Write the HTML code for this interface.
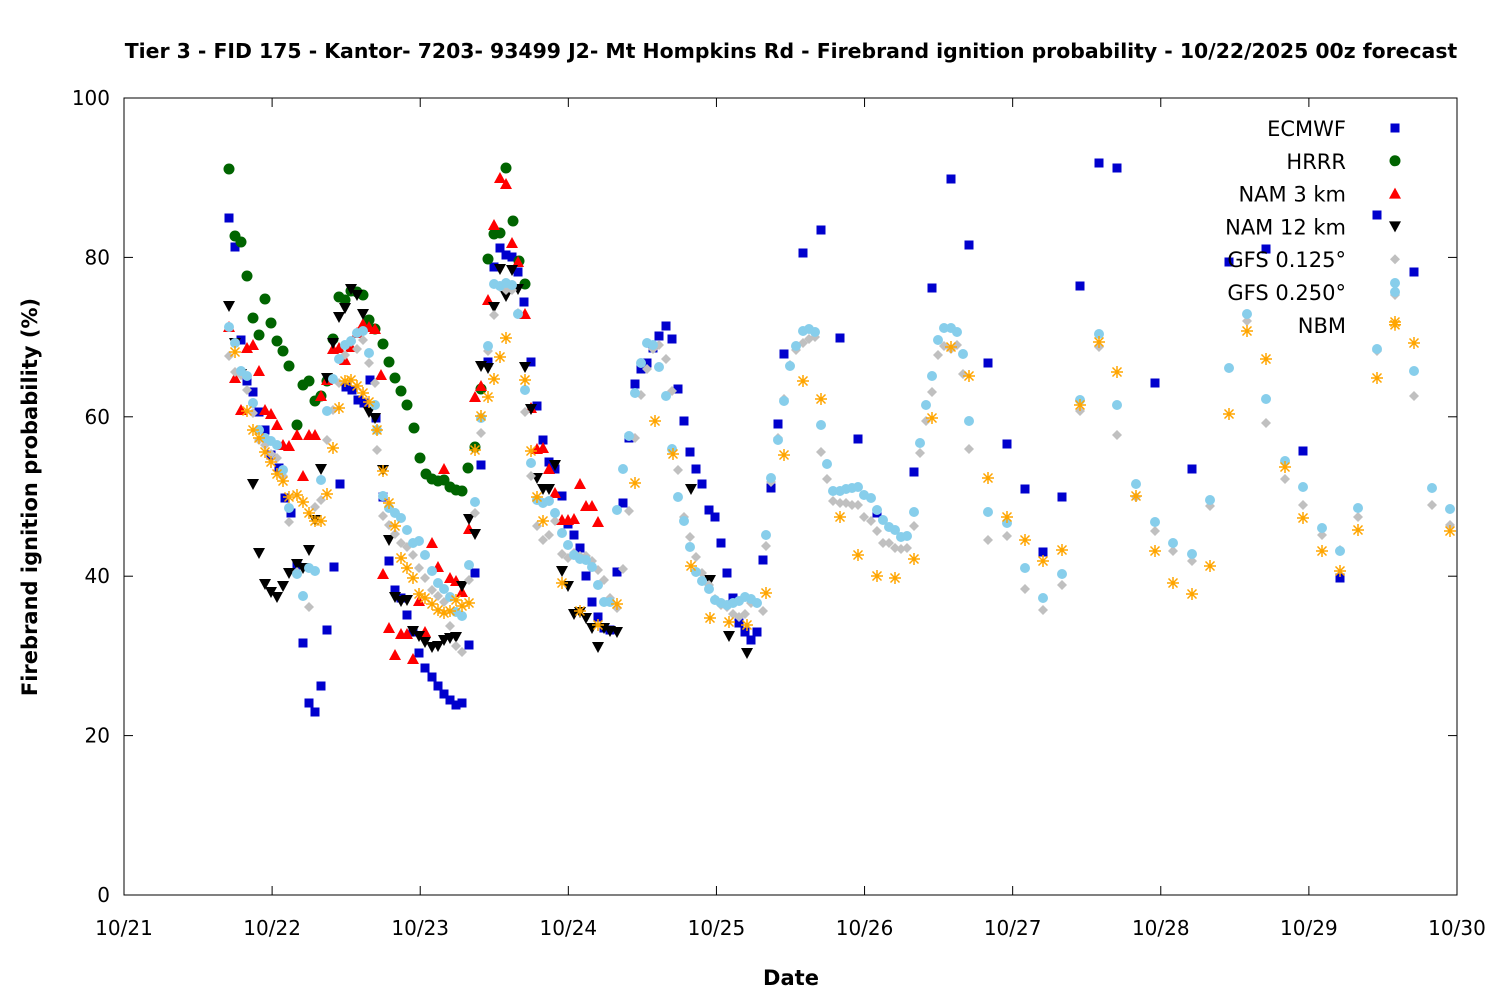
<!DOCTYPE html>
<html><head><meta charset="utf-8"><style>
body{margin:0;background:#fff;}
svg text{font-family:"DejaVu Sans","Liberation Sans",sans-serif;}
</style></head><body>
<svg id="s" width="1500" height="1000" xmlns="http://www.w3.org/2000/svg">
<rect width="1500" height="1000" fill="#fff"/>
<text x="791" y="58" text-anchor="middle" font-size="20.4" font-weight="bold">Tier 3 - FID 175 - Kantor- 7203- 93499 J2- Mt Hompkins Rd - Firebrand ignition probability - 10/22/2025 00z forecast</text>
<rect x="124" y="98" width="1333" height="797" fill="none" stroke="#000" stroke-width="1"/>
<g id="ticks" stroke="#000" stroke-width="1"></g>
<g id="lbl" font-size="20" fill="#000"></g>
<text x="791" y="985" text-anchor="middle" font-size="21" font-weight="bold">Date</text>
<text transform="translate(37,497) rotate(-90)" text-anchor="middle" font-size="21" font-weight="bold">Firebrand ignition probability (%)</text>
<g id="pts"></g>
<g id="leg" font-size="21" text-anchor="end"></g>
</svg>
<script>
const NS="http://www.w3.org/2000/svg";
function el(p,t,a,txt){const e=document.createElementNS(NS,t);for(const k in a)e.setAttribute(k,a[k]);if(txt!==undefined)e.textContent=txt;document.getElementById(p).appendChild(e);return e;}
for(let i=0;i<=5;i++){const y=895-i*159.4;el("ticks","line",{x1:124,y1:y,x2:133,y2:y});el("ticks","line",{x1:1457,y1:y,x2:1448,y2:y});el("lbl","text",{x:110,y:y+7,"text-anchor":"end"},String(i*20));}
const days=["10/21","10/22","10/23","10/24","10/25","10/26","10/27","10/28","10/29","10/30"];
for(let i=0;i<10;i++){const x=124+i*148.11;el("ticks","line",{x1:x,y1:895,x2:x,y2:886});el("ticks","line",{x1:x,y1:98,x2:x,y2:107});el("lbl","text",{x:x,y:935,"text-anchor":"middle"},days[i]);}
function P(s){const a=s.split(/[(),\s]+/).filter(x=>x).map(Number);const r=[];for(let i=0;i+1<a.length;i+=2)r.push([a[i],a[i+1]]);return r;}
function mark(type,x,y){
 if(type=="sq")el("pts","rect",{x:x-4.5,y:y-4.5,width:9,height:9,fill:"#0000cd"});
 else if(type=="ci")el("pts","circle",{cx:x,cy:y,r:5.5,fill:"#006400"});
 else if(type=="tu")el("pts","polygon",{points:`${x},${y-6} ${x-6},${y+5} ${x+6},${y+5}`,fill:"#ff0000"});
 else if(type=="td")el("pts","polygon",{points:`${x},${y+6} ${x-6},${y-5} ${x+6},${y-5}`,fill:"#000"});
 else if(type=="di")el("pts","polygon",{points:`${x},${y-5} ${x+5},${y} ${x},${y+5} ${x-5},${y}`,fill:"#c0c0c0"});
 else if(type=="pe")el("pts","circle",{cx:x,cy:y,r:5,fill:"#87ceeb"});
 else if(type=="as"){const g=`M${x-6},${y}H${x+6}M${x},${y-6}V${y+6}M${x-4.5},${y-4.5}L${x+4.5},${y+4.5}M${x-4.5},${y+4.5}L${x+4.5},${y-4.5}`;el("pts","path",{d:g,stroke:"#ffa500","stroke-width":1.5,fill:"none"});}
}
const S=[
["ECMWF","sq","(229,218),(235,247),(241,340),(247,381),(253,392),(259,412),(265,430),(271,455),(279,468),(285,498),(291,513),(297,565),(303,643),(309,703),(315,712),(321,686),(327,630),(334,567),(340,484),(346,387),(352,390),(358,400),(364,403),(370,380),(376,418),(383,497),(389,561),(395,590),(401,598),(407,615),(413,632),(419,653),(425,668),(432,677),(438,686),(444,694),(450,700),(456,705),(462,703),(469,645),(475,573),(481,465),(488,362),(494,267),(500,248),(506,255),(512,257),(518,272),(524,302),(531,362),(537,406),(543,440),(549,462),(555,469),(562,496),(568,524),(574,535),(580,548),(586,576),(592,602),(598,617),(604,628),(610,630),(617,572),(623,503),(629,438),(635,384),(641,369),(647,363),(653,348),(659,336),(666,326),(672,339),(678,389),(684,421),(690,452),(696,469),(702,484),(709,510),(715,517),(721,543),(727,573),(733,598),(739,623),(745,632),(751,640),(757,632),(763,560),(771,488),(778,424),(784,354),(803,253),(821,230),(840,338),(858,439),(877,513),(914,472),(932,288),(951,179),(969,245),(988,363),(1007,444),(1025,489),(1043,552),(1062,497),(1080,286),(1099,163),(1117,168),(1155,383),(1192,469),(1229,262),(1266,249),(1303,451),(1340,578),(1377,215),(1414,272)"],
["HRRR","ci","(229,169),(235,236),(241,242),(247,276),(253,318),(259,335),(265,299),(271,323),(277,341),(283,351),(289,366),(297,425),(303,385),(309,381),(315,401),(321,396),(327,381),(333,339),(339,297),(345,300),(351,291),(357,292),(363,295),(369,320),(375,329),(383,344),(389,362),(395,378),(401,391),(407,405),(414,428),(420,458),(426,474),(432,479),(438,481),(444,480),(450,487),(456,490),(462,491),(468,468),(475,447),(481,389),(488,259),(494,234),(500,233),(506,168),(513,221),(519,261),(525,284)"],
["NAM 3 km","tu","(229,327),(235,378),(241,410),(247,348),(253,345),(259,371),(265,410),(271,414),(277,425),(283,445),(289,446),(297,435),(303,476),(309,435),(315,435),(321,396),(327,380),(333,349),(339,348),(345,360),(351,347),(357,333),(363,324),(369,327),(375,329),(381,375),(383,574),(389,628),(395,655),(401,634),(407,634),(413,659),(419,601),(425,632),(432,543),(438,567),(444,469),(450,578),(456,581),(462,592),(469,529),(475,397),(481,386),(488,300),(494,225),(500,178),(506,184),(512,243),(518,262),(525,314),(531,408),(537,449),(543,448),(549,469),(555,493),(562,520),(568,520),(574,519),(580,484),(586,506),(592,506),(598,522)"],
["NAM 12 km","td","(229,306),(235,343),(241,374),(253,484),(259,553),(265,584),(271,592),(277,597),(283,586),(289,573),(297,564),(303,568),(309,550),(315,520),(321,469),(327,378),(333,343),(339,317),(345,308),(351,289),(357,295),(363,314),(369,412),(375,418),(383,470),(389,540),(395,597),(401,601),(407,600),(413,631),(419,636),(425,642),(432,647),(438,646),(444,640),(450,638),(456,637),(462,586),(469,519),(475,534),(481,366),(488,368),(494,307),(500,269),(506,296),(512,270),(518,289),(525,367),(531,409),(537,478),(543,489),(549,489),(555,465),(562,571),(568,586),(574,614),(580,612),(586,618),(592,628),(598,647),(604,628),(610,631),(617,632),(691,489),(710,580),(729,636),(747,653)"],
["GFS 0.125°","di","(229,356),(235,372),(241,375),(247,390),(253,413),(259,440),(265,445),(271,454),(277,458),(283,476),(289,522),(297,572),(303,596),(309,607),(315,507),(321,500),(327,440),(333,410),(339,383),(345,355),(351,342),(357,349),(363,340),(369,363),(375,383),(377,450),(383,516),(389,525),(395,534),(401,543),(407,547),(413,555),(419,568),(425,578),(432,590),(438,596),(444,602),(450,626),(456,646),(462,652),(469,580),(475,513),(481,433),(488,351),(494,315),(500,287),(506,290),(512,290),(518,313),(525,412),(531,476),(537,526),(543,540),(549,535),(555,521),(562,554),(568,558),(574,553),(580,556),(586,556),(592,561),(598,570),(604,580),(610,598),(617,608),(623,569),(629,511),(635,438),(641,395),(647,369),(653,349),(659,345),(666,359),(672,391),(678,470),(684,517),(690,537),(696,557),(702,573),(709,585),(715,599),(721,605),(727,607),(733,614),(739,617),(745,614),(751,603),(757,603),(763,611),(766,546),(771,482),(778,438),(784,399),(790,365),(796,350),(803,343),(809,339),(815,337),(821,452),(827,479),(833,501),(840,503),(846,503),(852,505),(858,505),(864,517),(871,521),(877,531),(883,543),(889,543),(895,548),(901,549),(907,548),(914,526),(920,453),(926,421),(932,392),(938,355),(944,346),(951,349),(957,345),(963,374),(969,449),(988,540),(1007,536),(1025,589),(1043,610),(1062,585),(1080,411),(1099,347),(1117,435),(1136,497),(1155,531),(1173,551),(1192,561),(1210,506),(1229,368),(1247,321),(1266,423),(1285,479),(1303,505),(1322,535),(1340,550),(1358,517),(1377,351),(1395,295),(1414,396),(1432,505),(1450,525)"],
["GFS 0.250°","pe","(229,327),(235,343),(241,371),(247,376),(253,403),(259,430),(265,438),(271,441),(277,445),(283,470),(289,508),(297,574),(303,596),(309,568),(315,571),(321,480),(327,411),(333,379),(339,359),(345,345),(351,341),(357,333),(363,331),(369,353),(375,405),(377,430),(383,496),(389,508),(395,513),(401,518),(407,530),(413,543),(419,541),(425,555),(432,571),(438,583),(444,589),(450,597),(456,612),(462,616),(469,565),(475,502),(481,418),(488,346),(494,284),(500,286),(506,283),(512,285),(518,314),(525,390),(531,463),(537,500),(543,503),(549,501),(555,513),(562,533),(568,545),(574,555),(580,559),(586,560),(592,567),(598,585),(604,602),(610,602),(617,510),(623,469),(629,436),(635,393),(641,363),(647,343),(653,345),(659,367),(666,396),(672,449),(678,497),(684,521),(690,547),(696,572),(702,581),(709,589),(715,600),(721,603),(727,605),(733,603),(739,601),(745,597),(751,599),(757,603),(766,535),(771,478),(778,440),(784,401),(790,366),(796,346),(803,331),(809,329),(815,332),(821,425),(827,464),(833,491),(840,491),(846,489),(852,488),(858,487),(864,495),(871,498),(877,510),(883,520),(889,527),(895,530),(901,537),(907,536),(914,512),(920,443),(926,405),(932,376),(938,340),(944,328),(951,328),(957,332),(963,354),(969,421),(988,512),(1007,523),(1025,568),(1043,598),(1062,574),(1080,400),(1099,334),(1117,405),(1136,484),(1155,522),(1173,543),(1192,554),(1210,500),(1229,368),(1247,314),(1266,399),(1285,461),(1303,487),(1322,528),(1340,551),(1358,508),(1377,349),(1395,283),(1414,371),(1432,488),(1450,509)"],
["NBM","as","(235,352),(247,411),(253,430),(259,438),(265,452),(271,462),(277,474),(283,481),(289,497),(297,495),(303,502),(309,513),(315,521),(321,521),(327,494),(333,448),(339,408),(345,381),(351,380),(357,386),(363,393),(369,402),(377,430),(383,471),(389,503),(395,526),(401,558),(407,568),(413,578),(419,594),(425,598),(432,604),(438,610),(444,613),(450,611),(456,600),(462,606),(469,603),(475,450),(481,416),(488,397),(494,379),(500,357),(506,338),(525,380),(531,451),(537,497),(543,521),(562,583),(580,611),(598,625),(617,604),(635,483),(655,421),(673,454),(691,566),(710,618),(729,622),(747,625),(766,593),(784,455),(803,381),(821,399),(840,517),(858,555),(877,576),(895,578),(914,559),(932,418),(951,347),(969,376),(988,478),(1007,517),(1025,540),(1043,561),(1062,550),(1080,405),(1099,342),(1117,372),(1136,496),(1155,551),(1173,583),(1192,594),(1210,566),(1229,414),(1247,331),(1266,359),(1285,467),(1303,518),(1322,551),(1340,571),(1358,530),(1377,378),(1395,322),(1414,343),(1450,531)"]
];
S.forEach((s,i)=>{P(s[2]).forEach(p=>mark(s[1],p[0],p[1]));const y=128+i*32.8;el("leg","text",{x:1346,y:y+8},s[0]);mark(s[1],1395,y);});
</script>
</body></html>
